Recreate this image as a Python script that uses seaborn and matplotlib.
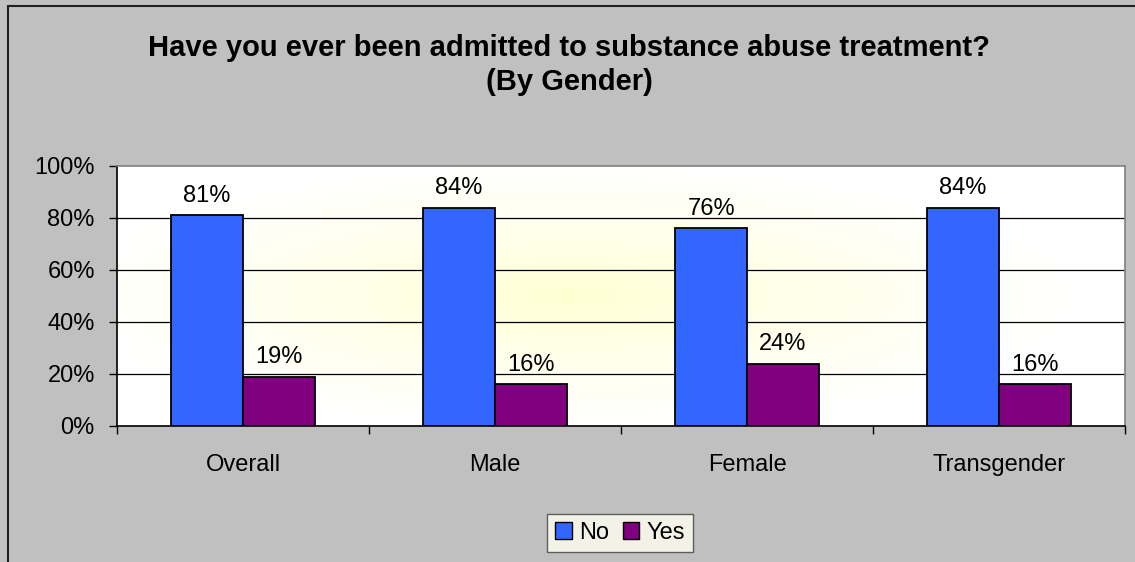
import numpy as np
import pandas as pd
import matplotlib
matplotlib.use("Agg")
import matplotlib.pyplot as plt
from matplotlib.lines import Line2D
from matplotlib.patches import Patch
import seaborn as sns

# data
groups = ["Overall", "Male", "Female", "Transgender"]
answers = ["No", "Yes"]
no_pct = [81, 84, 76, 84]
yes_pct = [19, 16, 24, 16]
y_ticks = [0, 20, 40, 60, 80, 100]

df = pd.DataFrame({
    "group": groups * 2,
    "answer": ["No"] * len(groups) + ["Yes"] * len(groups),
    "pct": no_pct + yes_pct,
})

sns.set_theme(style="white")
plt.rcParams["font.family"] = ["Liberation Sans", "DejaVu Sans"]
plt.rcParams["text.color"] = "black"
plt.rcParams["xtick.color"] = "black"
plt.rcParams["ytick.color"] = "black"

fig = plt.figure(figsize=(11.35, 5.62), dpi=100)
fig.patch.set_facecolor("#C0C0C0")
ax = fig.add_axes([117/1135, 1 - 426/562, (1125 - 117)/1135, (426 - 166)/562])

# radial yellow-ish gradient for the plot area
gx, gy = np.meshgrid(np.linspace(-1, 1, 300), np.linspace(-1, 1, 200))
r = np.clip(np.sqrt((gx + 0.1) ** 2 + (gy * 1.0) ** 2), 0, 1)
c0 = np.array([1.0, 1.0, 0.82])
c1 = np.array([1.0, 1.0, 1.0])
grad = c0 + (c1 - c0) * r[..., None] ** 0.8
ax.imshow(grad, extent=[0, 1, 0, 1], transform=ax.transAxes, aspect="auto", zorder=0)

palette = {"No": "#3366FF", "Yes": "#800080"}
sns.barplot(data=df, x="group", y="pct", hue="answer", order=groups, hue_order=answers,
            palette=palette, width=0.57, edgecolor="black", linewidth=1.3,
            saturation=1, ax=ax, legend=False, zorder=3)

for cont in ax.containers:
    ax.bar_label(cont, labels=[f"{v:.0f}%" for v in cont.datavalues],
                 padding=6, fontsize=17, zorder=4)

ax.set_xlim(-0.5, len(groups) - 0.5)
ax.set_ylim(0, 100)
ax.set_yticks(y_ticks)
ax.set_yticklabels([f"{t}%" for t in y_ticks], fontsize=17)
ax.set_xticks(range(len(groups)))
ax.set_xticklabels(groups, fontsize=17)
ax.set_xticks(np.arange(-0.5, len(groups)), minor=True)
ax.tick_params(axis="x", which="major", length=0, pad=20)
ax.tick_params(axis="x", which="minor", direction="out", length=6, width=1, color="black", bottom=True)
ax.tick_params(axis="y", direction="out", length=6, width=1, color="black", pad=10, left=True)
ax.set_xlabel("")
ax.set_ylabel("")

for t in y_ticks[1:-1]:
    ax.axhline(t, color="black", lw=0.9, zorder=1)

ax.spines["left"].set_color("black")
ax.spines["bottom"].set_color("black")
ax.spines["top"].set_color("#808080")
ax.spines["right"].set_color("#808080")
for s in ax.spines.values():
    s.set_linewidth(1.2)
    s.set_visible(True)

fig.text(569/1135, 1 - 48/562, "Have you ever been admitted to substance abuse treatment?",
         ha="center", va="center", fontsize=21, fontweight="bold")
fig.text(569/1135, 1 - 82/562, "(By Gender)",
         ha="center", va="center", fontsize=21, fontweight="bold")

handles = [Patch(facecolor=palette[a], edgecolor="black", label=a) for a in answers]
leg = fig.legend(handles=handles, loc="center", bbox_to_anchor=(620/1135, 1 - 533/562),
                 ncol=2, fontsize=17, frameon=True, fancybox=False, handlelength=0.7,
                 handleheight=0.7, handletextpad=0.3, columnspacing=0.6, borderpad=0.35)
leg.get_frame().set_edgecolor("#404040")
leg.get_frame().set_facecolor("#FFFFF0")
leg.get_frame().set_linewidth(1)

# chart area border (top and left only, picture is cropped)
fig.add_artist(Line2D([8/1135, 8/1135], [0, 1 - 6/562], transform=fig.transFigure, color="#202020", lw=1.5))
fig.add_artist(Line2D([8/1135, 1], [1 - 6/562, 1 - 6/562], transform=fig.transFigure, color="#202020", lw=1.5))

fig.savefig("out.png", dpi=100, facecolor=fig.get_facecolor())
